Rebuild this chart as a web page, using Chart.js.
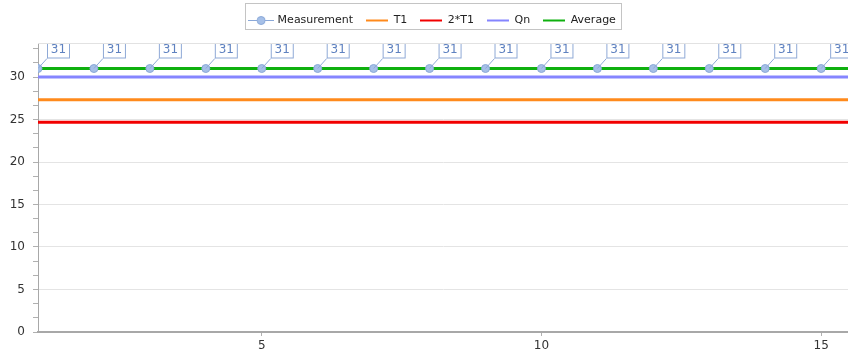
<!DOCTYPE html>
<html>
<head>
<meta charset="utf-8">
<script src="https://cdn.jsdelivr.net/npm/chart.js@4"></script>
<style>
  body { margin: 0; background: #fff; }
  #wrap { width: 848px; height: 363px; }
</style>
</head>
<body>
<div id="wrap"><canvas id="myChart" width="848" height="363"></canvas></div>
<script>
// data
const xValues = [1, 2, 3, 4, 5, 6, 7, 8, 9, 10, 11, 12, 13, 14, 15];
const measurement = [31, 31, 31, 31, 31, 31, 31, 31, 31, 31, 31, 31, 31, 31, 31];
const t1Value = 27.33;
const twoT1Value = 24.67;
const qnValue = 30;
const averageValue = 31;
const xRange = [1, 15.48];
const yRange = [0, 34];
const xTickValues = [5, 10, 15];
const yTickValues = [0, 5, 10, 15, 20, 25, 30];

const FONT = "'DejaVu Sans', Verdana, sans-serif";

// small pictures for the legend markers
function marker(color, withDot) {
    const w = withDot ? 26 : 22;
    const c = document.createElement('canvas');
    c.width = w; c.height = 11;
    const g = c.getContext('2d');
    g.strokeStyle = color;
    g.lineWidth = withDot ? 1 : 2;
    g.beginPath(); g.moveTo(0, 5.5); g.lineTo(w, 5.5); g.stroke();
    if (withDot) {
        g.fillStyle = '#a6c0e8';
        g.strokeStyle = '#8aa8d8';
        g.beginPath(); g.arc(w / 2, 5.5, 4, 0, Math.PI * 2); g.fill(); g.stroke();
    }
    return c;
}

function flat(v) {
    return [{x: xRange[0], y: v}, {x: xRange[1], y: v}];
}

const ctx = document.getElementById('myChart');

const labelBoxes = {
    id: 'labelBoxes',
    afterDatasetsDraw(chart) {
        const meta = chart.getDatasetMeta(0);
        const c = chart.ctx;
        const a = chart.chartArea;
        c.save();
        c.beginPath(); c.rect(a.left, a.top, a.right - a.left, a.bottom - a.top); c.clip();
        c.font = '12px ' + FONT;
        c.textAlign = 'center';
        c.textBaseline = 'middle';
        meta.data.forEach((pt, i) => {
            const x = pt.x, y = pt.y;
            c.strokeStyle = '#8fa9d6';
            c.lineWidth = 1;
            c.beginPath(); c.moveTo(x, y); c.lineTo(x + 9, y - 10); c.stroke();
            c.fillStyle = '#ffffff';
            c.fillRect(x + 9.5, y - 27.5, 22, 17);
            c.strokeRect(x + 9.5, y - 27.5, 22, 17);
            c.fillStyle = '#5f82c0';
            c.fillText(String(measurement[i]), x + 20.5, y - 18.5);
        });
        c.restore();
    }
};

const legendFrame = {
    id: 'legendFrame',
    beforeInit(chart) {
        const fit = chart.legend.fit;
        chart.legend.fit = function () {
            fit.call(this);
            this.height = 41;
        };
    },
    afterLayout(chart) {
        // legend sits a bit right of the canvas centre
        chart.legend.left += 9;
        chart.legend.right += 9;
    },
    afterDraw(chart) {
        const boxes = chart.legend.legendHitBoxes;
        if (!boxes || !boxes.length) return;
        const first = boxes[0], last = boxes[boxes.length - 1];
        const c = chart.ctx;
        c.save();
        c.strokeStyle = '#c4c4c4';
        c.lineWidth = 1;
        const l = Math.round(first.left) - 4.5, r = Math.round(last.left + last.width) + 5.5;
        c.strokeRect(l, 3.5, r - l, 26);
        // top edge of plot
        const a = chart.chartArea;
        c.strokeStyle = '#e2e2e2';
        c.beginPath(); c.moveTo(a.left, Math.round(a.top) + 0.5); c.lineTo(a.right, Math.round(a.top) + 0.5); c.stroke();
        c.restore();
    }
};

new Chart(ctx, {
    type: 'line',
    data: {
        datasets: [
            {
                label: 'Measurement',
                data: xValues.map((x, i) => ({x: x, y: measurement[i]})),
                showLine: false,
                pointRadius: 4,
                pointBackgroundColor: '#a6c0e8',
                pointBorderColor: '#8aa8d8',
                pointBorderWidth: 1,
                pointStyle: 'circle',
                legendMarker: marker('#8aa8d8', true)
            },
            { label: 'T1', data: flat(t1Value), borderColor: '#ff8a1c', borderWidth: 3, pointRadius: 0, legendMarker: marker('#ff8a1c') },
            { label: '2*T1', data: flat(twoT1Value), borderColor: '#f20000', borderWidth: 3, pointRadius: 0, legendMarker: marker('#f20000') },
            { label: 'Qn', data: flat(qnValue), borderColor: '#8585ff', borderWidth: 3, pointRadius: 0, legendMarker: marker('#8585ff') },
            { label: 'Average', data: flat(averageValue), borderColor: '#0fb00f', borderWidth: 3, pointRadius: 0, legendMarker: marker('#0fb00f') }
        ]
    },
    options: {
        responsive: false,
        animation: false,
        layout: { autoPadding: false, padding: { top: 2, right: 0, left: 0, bottom: 0 } },
        plugins: {
            tooltip: { enabled: false },
            legend: {
                position: 'top',
                labels: {
                    usePointStyle: true,
                    pointStyleWidth: 22,
                    padding: 13,
                    color: '#222',
                    font: { family: FONT, size: 11 },
                    generateLabels(chart) {
                        return chart.data.datasets.map((ds, i) => ({
                            text: ds.label,
                            pointStyle: ds.legendMarker,
                            fillStyle: 'transparent',
                            strokeStyle: 'transparent',
                            lineWidth: 0,
                            fontColor: '#222',
                            datasetIndex: i,
                            hidden: false
                        }));
                    }
                }
            }
        },
        scales: {
            x: {
                type: 'linear',
                min: xRange[0],
                max: xRange[1],
                afterBuildTicks(s) { s.ticks = xTickValues.map(v => ({value: v})); },
                afterFit(s) { s.height = 31; s.paddingLeft = 0; s.paddingRight = 0; },
                grid: { drawOnChartArea: false, tickLength: 4, tickColor: '#b0b0b0' },
                border: { color: '#a8a8a8', width: 2 },
                ticks: { color: '#333', font: { family: FONT, size: 12 }, padding: 3, maxRotation: 0 }
            },
            y: {
                min: yRange[0],
                max: yRange[1],
                afterBuildTicks(s) {
                    const t = [];
                    for (let k = 0; k * 5 / 3 <= yRange[1] + 1e-6; k++) t.push({value: k * 5 / 3});
                    s.ticks = t;
                },
                afterFit(s) { s.width = 38; s.paddingTop = 0; s.paddingBottom = 0; },
                grid: {
                    color: c => (c.tick && yTickValues.some(v => Math.abs(v - c.tick.value) < 1e-6)) ? '#e4e4e4' : 'transparent',
                    tickColor: '#b0b0b0',
                    tickLength: 5
                },
                border: { color: '#a8a8a8', width: 1 },
                ticks: {
                    color: '#333',
                    font: { family: FONT, size: 12 },
                    padding: 8,
                    autoSkip: false,
                    callback: v => yTickValues.some(t => Math.abs(t - v) < 1e-6) ? String(Math.round(v)) : ''
                }
            }
        }
    },
    plugins: [labelBoxes, legendFrame]
});
</script>
</body>
</html>
